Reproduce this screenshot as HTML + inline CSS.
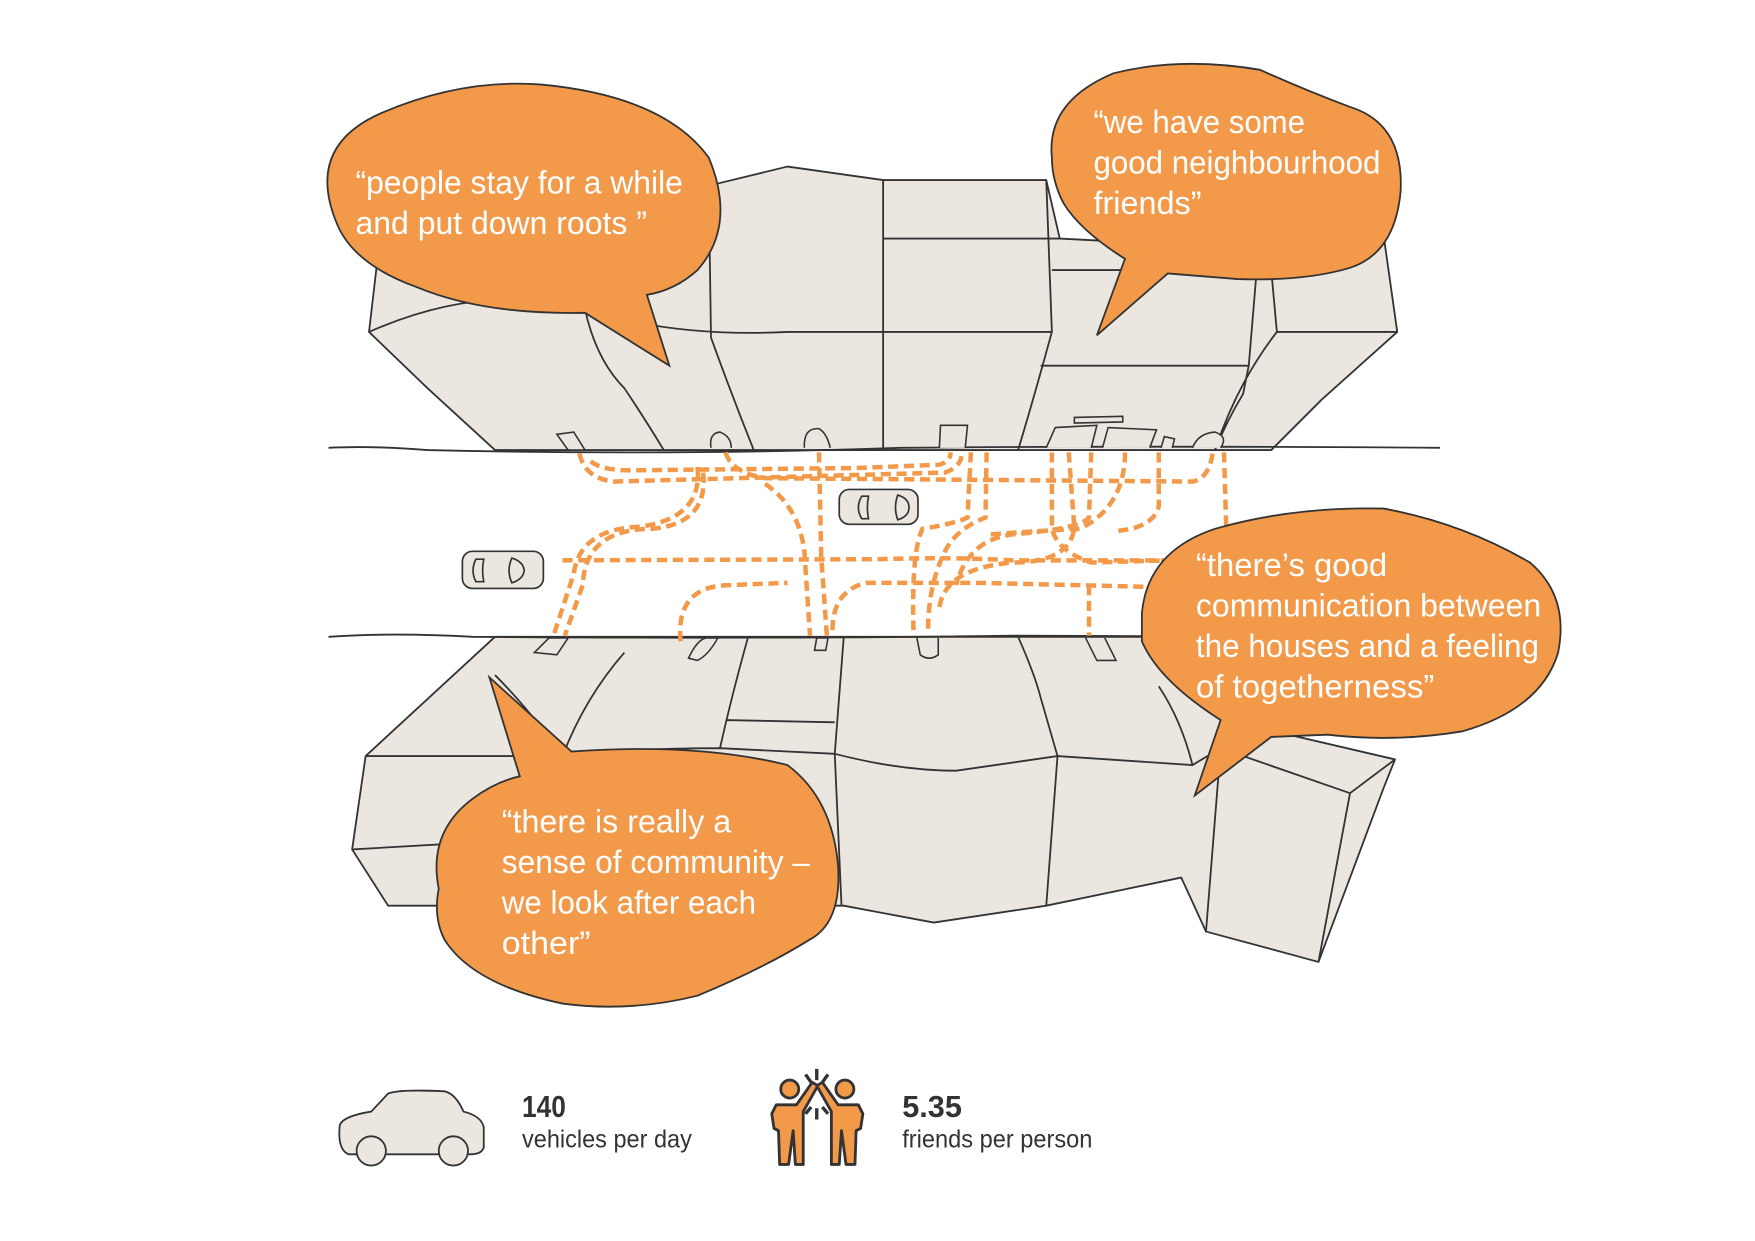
<!DOCTYPE html>
<html><head><meta charset="utf-8"><style>
html,body{margin:0;padding:0;background:#fff;}
svg{display:block;}
text{font-family:"Liberation Sans Narrow","Liberation Sans",sans-serif;}
</style></head><body>
<svg width="1755" height="1241" viewBox="0 0 1560 1103" xmlns="http://www.w3.org/2000/svg">
<rect width="1560" height="1103" fill="#fff"/>
<g fill="#ebe7e0" stroke="#333" stroke-width="1.6" stroke-linejoin="round">
<!-- top block -->
<path d="M328,295 L335,235 L480,215 L630,165 L700,148 L785,160 L930,160 L942,212 L1000,215 L1120,205 L1230,210 L1242,295 L1175,355 L1130,400 L440,400 L380,345 Z"/>
<path d="M328,295 Q430,250 520,275 Q600,300 700,295 L785,295 L935,295" fill="none"/>
<path d="M520,275 Q530,320 555,345 Q575,375 590,400 M630,165 L632,300 Q650,350 670,400 M785,160 L785,400 M930,160 L935,295 Q920,350 905,400 M785,212 L942,212 M935,240 L1000,240 M925,325 L1110,325 L1105,350 Q1090,375 1080,400 M1120,205 L1110,325 M1130,240 L1135,295 L1242,295 M1135,295 Q1100,340 1080,400" fill="none"/>
<!-- bottom block -->
<path d="M440,566 L1085,566 L1090,640 L1240,675 L1230,700 L1172,855 L1072,828 L1050,780 L930,805 L830,820 L750,805 L345,805 L313,755 L325,672 Z"/>
<path d="M325,672 L500,672 Q560,665 640,665 L742,670 Q800,685 850,685 L940,672 L1060,680 L1085,665 M1085,665 L1200,705 L1240,675 M1200,705 L1172,855 M1085,665 L1072,828 M313,755 L400,750" fill="none"/>
<path d="M500,672 Q470,630 440,600 M555,580 Q520,620 500,672 M665,566 Q650,620 640,665 M645,640 L742,642 M750,566 L742,670 L748,805 M905,566 Q920,600 925,620 L940,672 L930,805 M1060,680 Q1050,640 1030,610" fill="none"/>
</g>
<!-- road lines -->
<g fill="none" stroke="#333" stroke-width="1.6">
<path d="M292,398 Q330,396 380,400 Q600,405 800,398 Q1000,396 1280,398"/>
<path d="M292,566 Q350,562 420,566 Q700,568 900,565 Q1100,566 1280,565"/>
</g>
<!-- driveways -->
<g fill="#ebe7e0" stroke="#333" stroke-width="1.4">
<path d="M495,386 L510,384 L520,400 L505,400 Z"/>
<path d="M632,398 Q630,385 640,384 Q650,388 650,398"/>
<path d="M715,398 Q714,380 728,381 Q735,385 738,398"/>
<path d="M835,398 L836,378 L860,378 L858,398"/>
<path d="M930,398 L938,380 L975,378 L970,398"/>
<path d="M955,371 L998,370 L998,375 L955,376 Z"/>
<path d="M980,398 L985,380 L1028,382 L1022,398"/>
<path d="M1032,398 L1035,388 L1044,390 L1042,398"/>
<path d="M1060,398 Q1065,385 1080,384 Q1092,388 1085,398"/>
<path d="M475,580 L488,567 L505,567 L495,582 Z"/>
<path d="M612,585 Q620,568 628,567 L638,567 Q630,582 620,587 Z"/>
<path d="M724,578 L726,567 L736,567 L734,578 Z"/>
<path d="M815,567 L818,582 Q826,588 834,582 L834,567"/>
<path d="M965,567 L975,587 L992,587 L982,567"/>
</g>
<!-- orange dotted paths -->
<g fill="none" stroke="#f2994a" stroke-width="4" stroke-dasharray="9 5">
<path d="M515,403 Q520,425 545,428 L840,420 Q855,415 855,402"/>
<path d="M525,410 Q535,418 560,418 L760,416 L835,413 Q845,410 845,402"/>
<path d="M645,402 Q650,420 680,425 L1060,428 Q1075,425 1078,402"/>
<path d="M620,415 Q625,460 570,468 Q515,470 510,510 L492,565"/>
<path d="M625,420 Q630,465 580,470 Q520,470 518,520 L502,565"/>
<path d="M680,430 Q710,450 715,490 L720,565"/>
<path d="M728,402 L730,495 L735,565"/>
<path d="M500,498 L780,497 Q850,495 900,498 L1040,498"/>
<path d="M863,402 L860,460 Q850,465 820,470 Q810,490 812,560"/>
<path d="M877,402 L876,460 Q850,470 840,490 Q825,520 825,560"/>
<path d="M935,402 L935,470 Q940,490 970,500 L1040,498"/>
<path d="M950,402 L955,470 Q950,500 900,500 Q840,505 835,540"/>
<path d="M970,402 L968,460 Q960,470 900,475 Q860,480 850,520"/>
<path d="M1000,402 Q1000,450 960,470 Q920,472 880,475"/>
<path d="M1030,402 L1030,450 Q1025,470 990,472"/>
<path d="M1088,402 L1090,470"/>
<path d="M605,570 Q600,520 650,520 L700,518"/>
<path d="M740,560 Q740,525 770,518 L870,518 Q950,520 1040,522"/>
<path d="M968,520 L968,565"/>
</g>
<!-- cars -->
<g fill="#ebe7e0" stroke="#333" stroke-width="1.5">
<rect x="411" y="490" width="72" height="33" rx="9"/>
<path d="M423,497 Q418,507 423,517 L430,517 Q428,507 430,497 Z M455,496 Q450,507 455,518 Q465,515 466,507 Q465,499 455,496 Z"/>
<rect x="746" y="435" width="70" height="31" rx="9"/>
<path d="M766,441 Q760,451 766,461 L772,461 Q770,451 772,441 Z M798,440 Q794,451 798,462 Q808,459 808,451 Q808,443 798,440 Z"/>
</g>
<!-- bubbles -->
<g fill="#f2994a" stroke="#333" stroke-width="1.6">
<path d="M300,200 Q270,130 340,100 Q410,70 480,75 Q590,85 630,140 Q655,200 620,240 Q600,258 575,262 L595,325 L520,278 Q430,280 370,255 Q315,235 300,200 Z"/>
<path d="M935,140 Q930,90 990,65 Q1050,50 1120,62 Q1160,80 1200,95 Q1248,110 1245,170 Q1240,225 1200,238 Q1160,250 1100,248 L1038,243 L975,298 L1000,230 Q960,205 945,180 Q935,160 935,140 Z"/>
<path d="M1015,545 Q1020,490 1080,470 Q1150,450 1230,452 Q1300,465 1360,500 Q1395,530 1385,580 Q1370,630 1300,650 Q1240,660 1180,653 Q1130,655 1130,655 L1062,707 L1085,640 Q1030,605 1015,570 Z"/>
<path d="M390,790 Q380,740 420,710 Q440,695 462,690 L435,602 L508,668 Q620,660 700,680 Q740,710 745,770 Q748,820 720,835 Q680,860 620,885 Q560,900 500,892 Q420,875 395,835 Q385,815 390,790 Z"/>
</g>
<!-- bubble text -->
<g fill="#fff" font-size="29">
<text x="316" y="172" textLength="291" lengthAdjust="spacingAndGlyphs">“people stay for a while</text>
<text x="316" y="208" textLength="259" lengthAdjust="spacingAndGlyphs">and put down roots ”</text>
<text x="972" y="118" textLength="188" lengthAdjust="spacingAndGlyphs">“we have some</text>
<text x="972" y="154" textLength="255" lengthAdjust="spacingAndGlyphs">good neighbourhood</text>
<text x="972" y="190" textLength="96" lengthAdjust="spacingAndGlyphs">friends”</text>
<text x="1063" y="512" textLength="170" lengthAdjust="spacingAndGlyphs">“there’s good</text>
<text x="1063" y="548" textLength="307" lengthAdjust="spacingAndGlyphs">communication between</text>
<text x="1063" y="584" textLength="305" lengthAdjust="spacingAndGlyphs">the houses and a feeling</text>
<text x="1063" y="620" textLength="212" lengthAdjust="spacingAndGlyphs">of togetherness”</text>
<text x="446" y="740" textLength="204" lengthAdjust="spacingAndGlyphs">“there is really a</text>
<text x="446" y="776" textLength="274" lengthAdjust="spacingAndGlyphs">sense of community –</text>
<text x="446" y="812" textLength="226" lengthAdjust="spacingAndGlyphs">we look after each</text>
<text x="446" y="848" textLength="79" lengthAdjust="spacingAndGlyphs">other”</text>
</g>
<!-- bottom legend -->
<g fill="#ebe7e0" stroke="#333" stroke-width="1.6">
<path d="M308,1025 Q300,1020 302,1000 Q305,992 330,988 L345,972 Q355,968 395,970 Q405,972 412,988 Q428,992 430,1002 L430,1020 Q428,1026 418,1026 L310,1026 Z"/>
<circle cx="330" cy="1023" r="13"/>
<circle cx="403" cy="1023" r="13"/>
</g>
<g fill="#f2994a" stroke="#333" stroke-width="2.5" stroke-linejoin="round">
<circle cx="702" cy="968" r="8"/>
<circle cx="751" cy="968" r="8"/>
<path d="M690,982 L708,982 L722,962 L727,965 L714,988 L714,1035 L707,1035 L705,1005 L701,1035 L693,1035 L692,1005 L688,1003 L686,990 Z"/>
<path d="M763,982 L745,982 L731,962 L726,965 L739,988 L739,1035 L746,1035 L748,1005 L752,1035 L760,1035 L761,1005 L765,1003 L767,990 Z"/>
<path d="M726,950 L726,960 M716,955 L721,962 M736,955 L731,962 M716,990 L721,984 M736,990 L731,984 M726,985 L726,995" fill="none" stroke-width="3"/>
</g>
<g fill="#333">
<text x="464" y="993" font-size="27" font-weight="bold" textLength="39" lengthAdjust="spacingAndGlyphs">140</text>
<text x="464" y="1020" font-size="22" textLength="151" lengthAdjust="spacingAndGlyphs">vehicles per day</text>
<text x="802" y="993" font-size="27" font-weight="bold" textLength="53" lengthAdjust="spacingAndGlyphs">5.35</text>
<text x="802" y="1020" font-size="22" textLength="169" lengthAdjust="spacingAndGlyphs">friends per person</text>
</g>
</svg>
</body></html>
